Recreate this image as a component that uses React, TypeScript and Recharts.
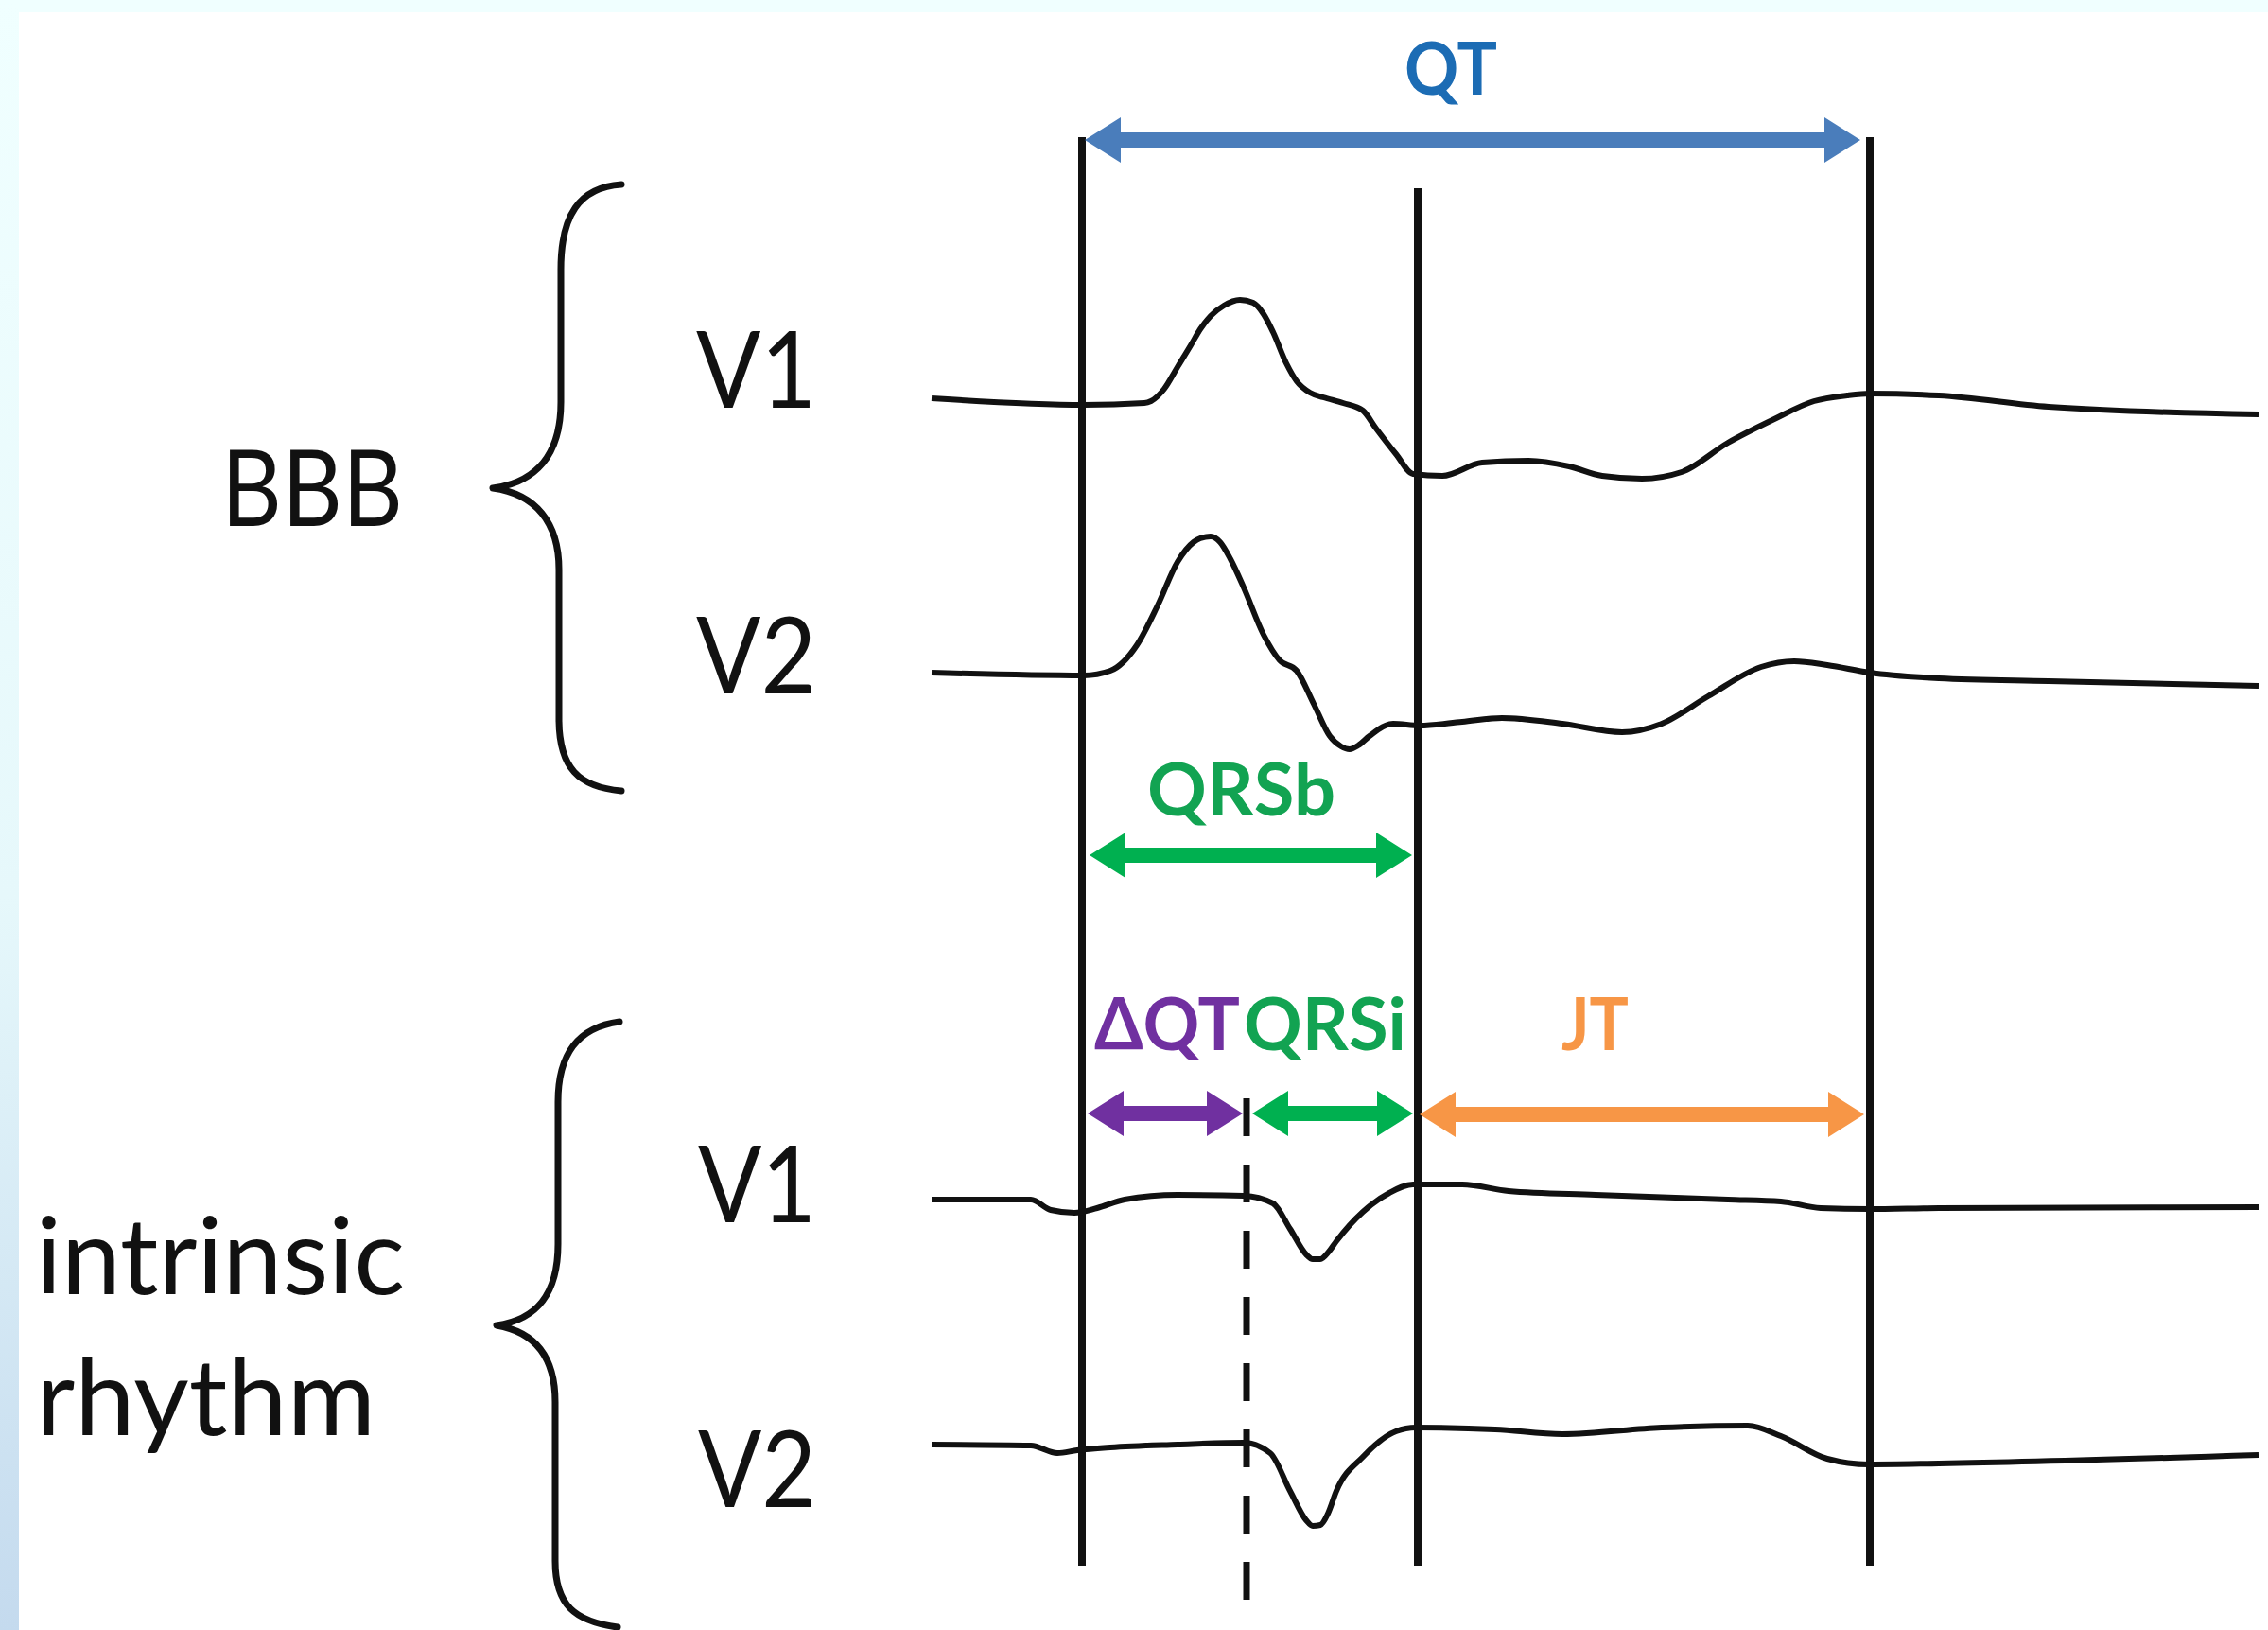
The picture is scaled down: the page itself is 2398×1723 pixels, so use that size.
import { LineChart, Line, XAxis, YAxis, ReferenceLine } from 'recharts'

// canvas + scale: 2 px per ms, 100 px per mV, QRS onset at x = 1144
const W = 2398
const H = 1723
const PX_PER_MS = 2
const PX_PER_MV = 100
const ONSET_PX = 1144
const X_MIN = -ONSET_PX / PX_PER_MS
const X_MAX = (W - ONSET_PX) / PX_PER_MS
const Y_MIN = -H / PX_PER_MV

// fiducial points (ms from QRS onset under BBB)
const Q_ONSET = 0
const QRSI_ONSET = 87
const J_POINT = 177.5
const T_END = 416.5

const T_BBB_V1 = [-79.5, 1, 33, 36.5, 43.5, 50.5, 57.5, 62.5, 68, 75, 83.5, 90.5, 96, 101, 108, 113.5, 120.5, 127.5, 138, 148.5, 155.5, 166, 175, 190.5, 211.5, 236, 257.5, 275, 296, 317, 341.5, 366, 387, 404.5, 416.5, 453, 511, 622]
const MV_BBB_V1 = [0.04, -0.03, -0.01, 0.01, 0.14, 0.37, 0.6, 0.77, 0.91, 1.02, 1.08, 1.05, 0.93, 0.74, 0.41, 0.22, 0.1, 0.05, -0.01, -0.09, -0.28, -0.55, -0.76, -0.78, -0.64, -0.62, -0.68, -0.78, -0.81, -0.74, -0.43, -0.18, 0.01, 0.07, 0.09, 0.07, -0.05, -0.13]

const T_BBB_V2 = [-79.5, 1, 15, 29, 40, 50.5, 59, 62.5, 68, 73, 78.5, 85.5, 96, 104.5, 113.5, 122.5, 131, 137, 141.5, 146, 152, 164.5, 178.5, 201, 222, 254, 285.5, 306.5, 331, 359, 376.5, 394, 416.5, 453, 511, 622]
const MV_BBB_V2 = [0.01, -0.02, 0.03, 0.3, 0.72, 1.18, 1.39, 1.43, 1.45, 1.39, 1.21, 0.91, 0.41, 0.14, 0.03, -0.32, -0.66, -0.77, -0.8, -0.76, -0.66, -0.53, -0.55, -0.51, -0.47, -0.53, -0.62, -0.53, -0.24, 0.07, 0.13, 0.09, 0.01, -0.05, -0.08, -0.13]

const T_INT_V1 = [-79.5, -27, -16.5, -4, 8, 22.5, 50.5, 85.5, 101, 110, 118.5, 122, 126, 130.5, 134.5, 148.5, 162.5, 175, 201, 225.5, 271.5, 341.5, 369.5, 390.5, 416, 453, 622]
const MV_INT_V1 = [0, 0, -0.11, -0.14, -0.09, 0, 0.05, 0.04, -0.04, -0.31, -0.58, -0.63, -0.63, -0.55, -0.44, -0.13, 0.07, 0.16, 0.16, 0.09, 0.05, 0, -0.02, -0.09, -0.1, -0.09, -0.08]

const T_INT_V2 = [-79.5, -27, -13, -2.5, 15, 50.5, 85.5, 99.5, 110, 118.5, 122, 126, 130, 134.5, 148.5, 166, 176.5, 218.5, 254, 306.5, 352, 369.5, 394, 416, 453, 622]
const MV_INT_V2 = [0.01, 0, -0.08, -0.05, -0.02, 0.01, 0.03, -0.08, -0.48, -0.79, -0.85, -0.84, -0.72, -0.48, -0.12, 0.15, 0.19, 0.17, 0.12, 0.19, 0.21, 0.1, -0.14, -0.2, -0.19, -0.1]

// baseline row of each lead, in px from the top
const LEADS = [
  { key: 'bbbV1', t: T_BBB_V1, mv: MV_BBB_V1, row: 425 },
  { key: 'bbbV2', t: T_BBB_V2, mv: MV_BBB_V2, row: 712 },
  { key: 'intV1', t: T_INT_V1, mv: MV_INT_V1, row: 1268 },
  { key: 'intV2', t: T_INT_V2, mv: MV_INT_V2, row: 1528 },
]

const rowY = (px: number) => -px / PX_PER_MV

const COLORS = {
  ink: '#111111',
  qt: '#4a7dbb',
  qtText: '#1c6cb4',
  green: '#00b050',
  greenText: '#12a352',
  purple: '#7030a0',
  orange: '#f79646',
}

interface ArrowProps {
  x1?: number
  y1?: number
  x2?: number
  y2?: number
  color: string
  padL: number
  padR: number
}

function DoubleArrow({ x1 = 0, y1 = 0, x2 = 0, color, padL, padR }: ArrowProps) {
  const a = Math.min(x1, x2) + padL
  const b = Math.max(x1, x2) - padR
  const y = y1
  const head = 38
  const hh = 24
  const sh = 8
  const pts = [
    [a, y],
    [a + head, y - hh],
    [a + head, y - sh],
    [b - head, y - sh],
    [b - head, y - hh],
    [b, y],
    [b - head, y + hh],
    [b - head, y + sh],
    [a + head, y + sh],
    [a + head, y + hh],
  ]
  return <polygon points={pts.map((p) => p.join(',')).join(' ')} fill={color} />
}

const ARROWS = [
  { key: 'qt', from: Q_ONSET, to: T_END, row: 148, color: COLORS.qt, padL: 3, padR: 10 },
  { key: 'qrsb', from: Q_ONSET, to: J_POINT, row: 904, color: COLORS.green, padL: 8, padR: 6 },
  { key: 'dqt', from: Q_ONSET, to: QRSI_ONSET, row: 1177, color: COLORS.purple, padL: 6, padR: 4 },
  { key: 'qrsi', from: QRSI_ONSET, to: J_POINT, row: 1177, color: COLORS.green, padL: 6, padR: 5 },
  { key: 'jt', from: J_POINT, to: T_END, row: 1178, color: COLORS.orange, padL: 2, padR: 6 },
]

const MARKERS = [
  { key: 'q', t: Q_ONSET, top: 145, bottom: 1655 },
  { key: 'j', t: J_POINT, top: 199, bottom: 1655 },
  { key: 'tend', t: T_END, top: 145, bottom: 1655 },
]

const BLACK_LABELS = [
  { text: 'BBB', x: 234, y: 556, w: 192 },
  { text: 'V1', x: 736, y: 431, w: 127 },
  { text: 'V2', x: 736, y: 733, w: 127 },
  { text: 'V1', x: 738, y: 1292, w: 125 },
  { text: 'V2', x: 738, y: 1593, w: 125 },
  { text: 'intrinsic', x: 38, y: 1368, w: 390 },
  { text: 'rhythm', x: 38, y: 1517, w: 359 },
]

const INTERVAL_LABELS = [
  { text: 'QT', x: 1485, y: 100, w: 98, color: COLORS.qtText },
  { text: 'QRSb', x: 1213, y: 862, w: 199, color: COLORS.greenText },
  { text: 'ΔQT', x: 1157, y: 1110, w: 154, color: COLORS.purple },
  { text: 'QRSi', x: 1315, y: 1110, w: 172, color: COLORS.greenText },
  { text: 'JT', x: 1651, y: 1110, w: 71, color: COLORS.orange },
]

const BRACES = [
  'M 657 195 C 612 198, 593 228, 593 285 L 593 425 C 593 482, 566 510, 521 516 C 566 522, 591 552, 591 602 L 591 760 C 591 812, 612 832, 657 836',
  'M 655 1080 C 610 1086, 590 1115, 590 1165 L 590 1315 C 590 1370, 566 1395, 525 1401 C 566 1408, 587 1435, 587 1482 L 587 1650 C 587 1697, 608 1714, 653 1720',
]

export default function App() {
  const series = LEADS.map((lead) => ({
    key: lead.key,
    data: lead.t.map((t, i) => ({ t, v: lead.mv[i] + rowY(lead.row) })),
  }))

  return (
    <div
      style={{
        position: 'absolute',
        left: 0,
        top: 0,
        width: W,
        height: H,
        background: '#f0ffff',
        overflow: 'hidden',
      }}
    >
      {/* light frame on the left edge */}
      <div
        style={{
          position: 'absolute',
          left: 0,
          top: 0,
          width: 20,
          height: H,
          background: 'linear-gradient(to bottom, #f0ffff 0%, #e6f8fb 55%, #c4daee 100%)',
        }}
      />
      <div style={{ position: 'absolute', left: 20, top: 13, right: 0, bottom: 0, background: '#ffffff' }} />

      <div style={{ position: 'absolute', left: 0, top: 0 }}>
        <LineChart width={W} height={H} margin={{ top: 0, right: 0, bottom: 0, left: 0 }}>
          <XAxis type="number" dataKey="t" domain={[X_MIN, X_MAX]} allowDataOverflow hide />
          <YAxis type="number" domain={[Y_MIN, 0]} allowDataOverflow hide />

          {MARKERS.map((m) => (
            <ReferenceLine
              key={m.key}
              segment={[
                { x: m.t, y: rowY(m.top) },
                { x: m.t, y: rowY(m.bottom) },
              ]}
              stroke={COLORS.ink}
              strokeWidth={8}
              ifOverflow="visible"
            />
          ))}
          <ReferenceLine
            segment={[
              { x: QRSI_ONSET, y: rowY(1161) },
              { x: QRSI_ONSET, y: rowY(1698) },
            ]}
            stroke={COLORS.ink}
            strokeWidth={7}
            strokeDasharray="40 30"
            ifOverflow="visible"
          />

          {series.map((s) => (
            <Line
              key={s.key}
              data={s.data}
              dataKey="v"
              type="monotone"
              stroke={COLORS.ink}
              strokeWidth={6}
              strokeLinejoin="round"
              dot={false}
              activeDot={false}
              isAnimationActive={false}
            />
          ))}

          {ARROWS.map((a) => (
            <ReferenceLine
              key={a.key}
              segment={[
                { x: a.from, y: rowY(a.row) },
                { x: a.to, y: rowY(a.row) },
              ]}
              ifOverflow="visible"
              shape={(p: any) => (
                <DoubleArrow {...p} color={a.color} padL={a.padL} padR={a.padR} />
              )}
            />
          ))}
        </LineChart>
      </div>

      {/* braces and text labels */}
      <svg
        width={W}
        height={H}
        style={{ position: 'absolute', left: 0, top: 0, pointerEvents: 'none' }}
      >
        {BRACES.map((d, i) => (
          <path key={i} d={d} fill="none" stroke={COLORS.ink} strokeWidth={7} strokeLinecap="round" strokeLinejoin="round" />
        ))}
        {BLACK_LABELS.map((l, i) => (
          <text
            key={i}
            x={l.x}
            y={l.y}
            fontFamily="Lato, 'Open Sans', sans-serif"
            fontSize={112}
            fill={COLORS.ink}
            textLength={l.w}
            lengthAdjust="spacingAndGlyphs"
          >
            {l.text}
          </text>
        ))}
        {INTERVAL_LABELS.map((l, i) => (
          <text
            key={i}
            x={l.x}
            y={l.y}
            fontFamily="Lato, 'Open Sans', sans-serif"
            fontWeight={700}
            fontSize={76}
            fill={l.color}
            textLength={l.w}
            lengthAdjust="spacingAndGlyphs"
          >
            {l.text}
          </text>
        ))}
      </svg>
    </div>
  )
}
